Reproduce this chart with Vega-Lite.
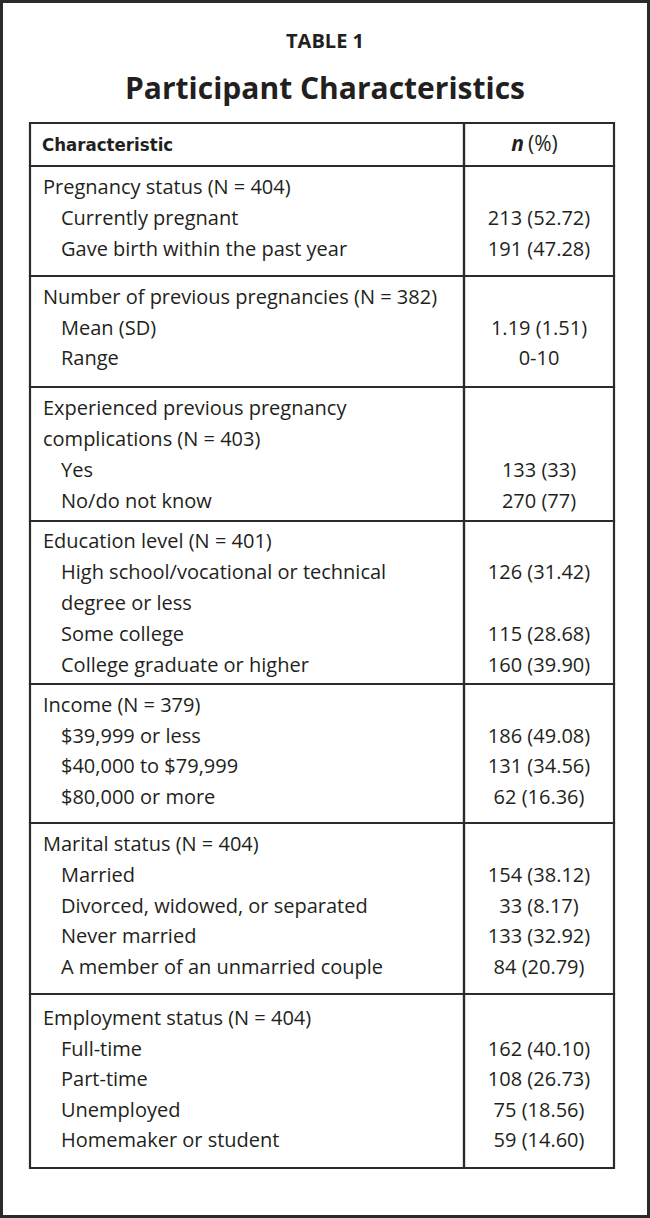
{
  "$schema": "https://vega.github.io/schema/vega-lite/v6.json",
  "width": 650,
  "height": 1218,
  "autosize": {"type": "none"},
  "padding": 0,
  "background": "white",
  "config": {
    "view": {"stroke": "#2b2b2b", "strokeWidth": 6, "fill": "white"},
    "text": {"font": "Open Sans", "fontSize": 20, "color": "#231f20", "baseline": "middle"}
  },
  "title": {
    "text": "TABLE 1",
    "subtitle": "Participant Characteristics",
    "anchor": "middle",
    "frame": "group",
    "offset": -105,
    "font": "Open Sans",
    "fontSize": 20,
    "fontWeight": "bold",
    "color": "#231f20",
    "subtitleFont": "Open Sans",
    "subtitleFontSize": 30,
    "subtitleFontWeight": "bold",
    "subtitleColor": "#231f20",
    "subtitlePadding": 23
  },
  "datasets": {
    "rows": [
      {"row": 1, "label": "Pregnancy status (N = 404)", "level": 0},
      {"row": 2, "label": "Currently pregnant", "level": 1, "value": "213 (52.72)"},
      {"row": 3, "label": "Gave birth within the past year", "level": 1, "value": "191 (47.28)"},
      {"row": 4, "label": "Number of previous pregnancies (N = 382)", "level": 0},
      {"row": 5, "label": "Mean (SD)", "level": 1, "value": "1.19 (1.51)"},
      {"row": 6, "label": "Range", "level": 1, "value": "0-10"},
      {"row": 7, "label": "Experienced previous pregnancy", "level": 0},
      {"row": 8, "label": "complications (N = 403)", "level": 0},
      {"row": 9, "label": "Yes", "level": 1, "value": "133 (33)"},
      {"row": 10, "label": "No/do not know", "level": 1, "value": "270 (77)"},
      {"row": 11, "label": "Education level (N = 401)", "level": 0},
      {"row": 12, "label": "High school/vocational or technical", "level": 1, "value": "126 (31.42)"},
      {"row": 13, "label": "degree or less", "level": 1},
      {"row": 14, "label": "Some college", "level": 1, "value": "115 (28.68)"},
      {"row": 15, "label": "College graduate or higher", "level": 1, "value": "160 (39.90)"},
      {"row": 16, "label": "Income (N = 379)", "level": 0},
      {"row": 17, "label": "$39,999 or less", "level": 1, "value": "186 (49.08)"},
      {"row": 18, "label": "$40,000 to $79,999", "level": 1, "value": "131 (34.56)"},
      {"row": 19, "label": "$80,000 or more", "level": 1, "value": "62 (16.36)"},
      {"row": 20, "label": "Marital status (N = 404)", "level": 0},
      {"row": 21, "label": "Married", "level": 1, "value": "154 (38.12)"},
      {"row": 22, "label": "Divorced, widowed, or separated", "level": 1, "value": "33 (8.17)"},
      {"row": 23, "label": "Never married", "level": 1, "value": "133 (32.92)"},
      {"row": 24, "label": "A member of an unmarried couple", "level": 1, "value": "84 (20.79)"},
      {"row": 25, "label": "Employment status (N = 404)", "level": 0},
      {"row": 26, "label": "Full-time", "level": 1, "value": "162 (40.10)"},
      {"row": 27, "label": "Part-time", "level": 1, "value": "108 (26.73)"},
      {"row": 28, "label": "Unemployed", "level": 1, "value": "75 (18.56)"},
      {"row": 29, "label": "Homemaker or student", "level": 1, "value": "59 (14.60)"}
    ],
    "sections": [
      {"section": "Header", "top": -0.5, "bottom": 0.5},
      {"section": "Pregnancy status", "top": 0.5, "bottom": 3.5},
      {"section": "Number of previous pregnancies", "top": 3.5, "bottom": 6.5},
      {"section": "Experienced previous pregnancy complications", "top": 6.5, "bottom": 10.5},
      {"section": "Education level", "top": 10.5, "bottom": 15.5},
      {"section": "Income", "top": 15.5, "bottom": 19.5},
      {"section": "Marital status", "top": 19.5, "bottom": 24.5},
      {"section": "Employment status", "top": 24.5, "bottom": 29.5}
    ],
    "header": [
      {"row": 0, "column": "Characteristic"}
    ]
  },
  "layer": [
    {
      "data": {"name": "sections"},
      "mark": {"type": "rect", "fill": null, "stroke": "#2b2b2b", "strokeWidth": 2.2},
      "encoding": {
        "x": {"datum": 0, "type": "quantitative", "scale": {"type": "linear", "domain": [0, 1, 2], "range": [30, 464, 614], "nice": false, "zero": false}, "axis": null},
        "x2": {"datum": 1},
        "y": {"field": "top", "type": "quantitative", "scale": {"type": "linear", "domain": [-0.5, 0, 0.5, 1, 3, 3.5, 4, 6, 6.5, 7, 10, 10.5, 11, 15, 15.5, 16, 19, 19.5, 20, 24, 24.5, 25, 29, 29.5], "range": [123, 145, 166, 188, 250, 276, 298, 359, 387, 409, 502, 521, 542, 666, 684, 706, 798, 823, 845, 968, 994, 1019, 1141, 1168], "nice": false, "zero": false}, "axis": null},
        "y2": {"field": "bottom"}
      }
    },
    {
      "data": {"name": "sections"},
      "mark": {"type": "rect", "fill": null, "stroke": "#2b2b2b", "strokeWidth": 2.2},
      "encoding": {
        "x": {"datum": 1, "type": "quantitative"},
        "x2": {"datum": 2},
        "y": {"field": "top", "type": "quantitative"},
        "y2": {"field": "bottom"}
      }
    },
    {
      "data": {"name": "header"},
      "mark": {"type": "text", "align": "left", "dx": 12, "font": "DejaVu Sans Condensed, Roboto Condensed, Roboto, sans-serif", "fontWeight": "bold", "fontSize": 18.5},
      "encoding": {
        "x": {"datum": 0, "type": "quantitative"},
        "y": {"field": "row", "type": "quantitative"},
        "text": {"field": "column"}
      }
    },
    {
      "data": {"name": "header"},
      "mark": {"type": "text", "align": "right", "dx": -15, "fontWeight": "bold", "fontStyle": "italic", "fontSize": 21},
      "encoding": {
        "x": {"datum": 1.5, "type": "quantitative"},
        "y": {"field": "row", "type": "quantitative"},
        "text": {"value": "n"}
      }
    },
    {
      "data": {"name": "header"},
      "mark": {"type": "text", "align": "left", "dx": -11, "fontSize": 21},
      "encoding": {
        "x": {"datum": 1.5, "type": "quantitative"},
        "y": {"field": "row", "type": "quantitative"},
        "text": {"value": "(%)"}
      }
    },
    {
      "data": {"name": "rows"},
      "transform": [{"filter": "datum.level === 0"}],
      "mark": {"type": "text", "align": "left", "dx": 13},
      "encoding": {
        "x": {"datum": 0, "type": "quantitative"},
        "y": {"field": "row", "type": "quantitative"},
        "text": {"field": "label"}
      }
    },
    {
      "data": {"name": "rows"},
      "transform": [{"filter": "datum.level === 1"}],
      "mark": {"type": "text", "align": "left", "dx": 31},
      "encoding": {
        "x": {"datum": 0, "type": "quantitative"},
        "y": {"field": "row", "type": "quantitative"},
        "text": {"field": "label"}
      }
    },
    {
      "data": {"name": "rows"},
      "transform": [{"filter": "isValid(datum.value)"}],
      "mark": {"type": "text", "align": "center"},
      "encoding": {
        "x": {"datum": 1.5, "type": "quantitative"},
        "y": {"field": "row", "type": "quantitative"},
        "text": {"field": "value"}
      }
    }
  ]
}
